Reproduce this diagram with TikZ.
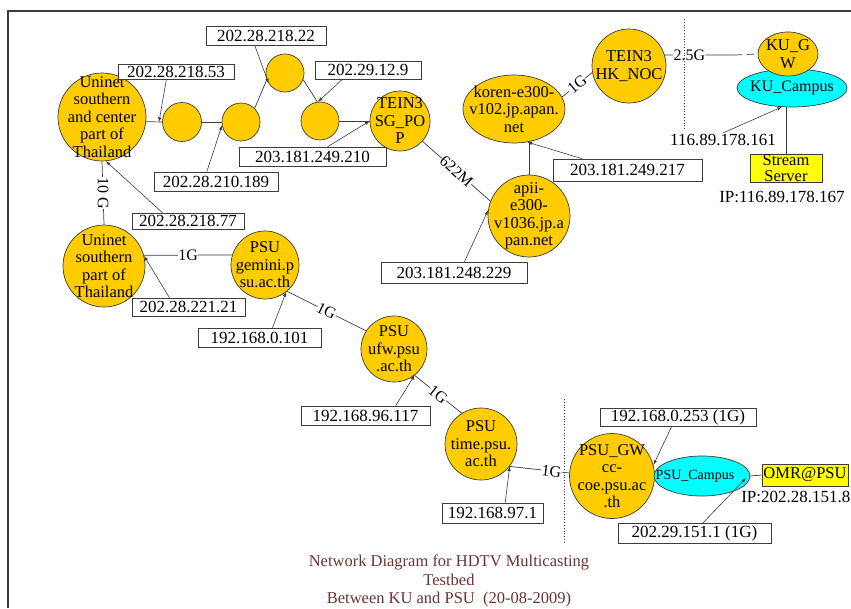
\documentclass[tikz,border=0pt]{standalone}
\usepackage{fontspec}
\setmainfont{Liberation Serif}
\usepackage{tikz}
\usetikzlibrary{shapes.geometric}
\usetikzlibrary{backgrounds}
\definecolor{gold1} {RGB} {255, 204, 0}
\definecolor{cyan1} {RGB} {0, 255, 255}
\definecolor{yellow1} {RGB} {255, 255, 0}
\definecolor{brown1} {RGB} {110, 50, 50}
\definecolor{gray1} {RGB} {60, 60, 60}
\tikzstyle{net}=[
  >=latex, x=1pt, y=-1pt, line width=0.6pt
]
\tikzstyle{netnode}=[
  draw=gray1, line width=0.7pt, inner sep=0pt
]
\tikzstyle{router}=[
  netnode, circle, fill=gold1
]
\tikzstyle{cloud}=[
  netnode, ellipse, fill=gold1
]
\tikzstyle{campus}=[
  netnode, ellipse, fill=cyan1
]
\tikzstyle{nodetext}=[
  align=center, inner sep=0pt, font=\fontsize{16.5}{17.5}\selectfont
]
\tikzstyle{ipbox}=[
  draw=gray1, fill=white, minimum height=19, inner sep=0pt, font=\fontsize{17}{18}\selectfont
]
\tikzstyle{iptext}=[
  inner sep=1pt, font=\fontsize{17}{18}\selectfont
]
\tikzstyle{hostbox}=[
  draw=gray1, fill=yellow1, inner sep=0pt, align=center, font=\fontsize{16.5}{16.5}\selectfont
]
\tikzstyle{linkedge}=[
  line width=0.7pt, draw=gray1
]
\tikzstyle{ipedge}=[
  line width=0.6pt, draw=gray1, ->
]
\tikzstyle{rate}=[
  fill=white, inner sep=0.5pt, font=\fontsize{16}{17}\selectfont
]
\begin{document}
\begin{tikzpicture}[net]
    \useasboundingbox (0,0) rectangle (851,608);
    \draw [line width=1.2pt, gray1] (8,608) -- (8,11) -- (851,11);
    \draw [dotted, line width=0.8pt, gray1] (684,19) -- (684,130);
    \draw [dotted, line width=0.8pt, gray1] (564,399) -- (564,542);
    \node (uc) [router, minimum size=88] at (102,117) {};
    \node (c1) [router, minimum size=39] at (182,122) {};
    \node (c2) [router, minimum size=38] at (241,122) {};
    \node (c3) [router, minimum size=38] at (285,73) {};
    \node (c4) [router, minimum size=38] at (320,121) {};
    \node (sg) [router, minimum size=60] at (400,121) {};
    \node (us) [router, minimum size=82] at (104,266) {};
    \node (gem) [router, minimum size=68] at (265,265) {};
    \node (ufw) [router, minimum size=66] at (394,349) {};
    \node (tim) [router, minimum size=72] at (481,444) {};
    \node (gw) [router, minimum size=85] at (612,476) {};
    \node (psuc) [campus, minimum width=96, minimum height=40] at (702,476) {};
    \node (apii) [router, minimum size=82] at (529,216) {};
    \node (koren) [cloud, minimum width=102, minimum height=68] at (514,109) {};
    \node (hk) [router, minimum size=74] at (629,66) {};
    \node (kuc) [campus, minimum width=110, minimum height=38] at (792,88) {};
    \node (kugw) [cloud, minimum width=60, minimum height=44] at (788,54) {};
    \node (uc txt) [nodetext] at (uc) {Uninet\\southern\\and center\\part of\\Thailand};
    \node (sg txt) [nodetext] at (sg) {TEIN3\\SG\_PO\\P};
    \node (us txt) [nodetext] at (us) {Uninet\\southern\\part of\\Thailand};
    \node (gem txt) [nodetext] at (gem) {PSU\\gemini.p\\su.ac.th};
    \node (ufw txt) [nodetext] at (ufw) {PSU\\ufw.psu\\.ac.th};
    \node (tim txt) [nodetext] at (tim) {PSU\\time.psu.\\ac.th};
    \node (gw txt) [nodetext] at (gw) {PSU\_GW\\cc-\\coe.psu.ac\\.th};
    \node (psuc txt) [nodetext, font=\fontsize{14}{15}\selectfont] at (695,476) {PSU\_Campus};
    \node (apii txt) [nodetext] at (apii) {apii-\\e300-\\v1036.jp.a\\pan.net};
    \node (koren txt) [nodetext] at (koren) {koren-e300-\\v102.jp.apan.\\net};
    \node (hk txt) [nodetext] at (hk) {TEIN3\\HK\_NOC};
    \node (kuc txt) [nodetext, font=\fontsize{16}{17}\selectfont] at (kuc) {KU\_Campus};
    \node (kugw txt) [nodetext, font=\fontsize{16.5}{18}\selectfont] at (kugw) {KU\_G\\W};
    \node (omr) [hostbox, minimum width=86, minimum height=22] at (805,475) {OMR@PSU};
    \node (ss) [hostbox, minimum width=72, minimum height=28] at (786,168) {Stream\\Server};
    \node (lb22) [ipbox, minimum width=120] at (266,35.5) {202.28.218.22};
    \node (lb53) [ipbox, minimum width=116, minimum height=15] at (176,71.5) {202.28.218.53};
    \node (lb129) [ipbox, minimum width=106, minimum height=18] at (368,70) {202.29.12.9};
    \node (lb210) [ipbox, minimum width=147] at (312.5,156.5) {203.181.249.210};
    \node (lb189) [ipbox, minimum width=124] at (216,181.5) {202.28.210.189};
    \node (lb77) [ipbox, minimum width=112, minimum height=16] at (188,221) {202.28.218.77};
    \node (lb221) [ipbox, minimum width=113, minimum height=18] at (188.5,307) {202.28.221.21};
    \node (lb101) [ipbox, minimum width=123] at (259.5,337.5) {192.168.0.101};
    \node (lb117) [ipbox, minimum width=129] at (365.5,415.5) {192.168.96.117};
    \node (lb97) [ipbox, minimum width=101, minimum height=20] at (492.5,513) {192.168.97.1};
    \node (lb253) [ipbox, minimum width=156, minimum height=18] at (678,417) {192.168.0.253 (1G)};
    \node (lb151) [ipbox, minimum width=153, minimum height=20] at (694.5,533) {202.29.151.1 (1G)};
    \node (lb217) [ipbox, minimum width=149, minimum height=22] at (627.5,170) {203.181.249.217};
    \node (lb229) [ipbox, minimum width=146, minimum height=21] at (454,272.5) {203.181.248.229};
    \node (ip161) [iptext] at (723,140) {116.89.178.161};
    \node (ip167) [iptext] at (782,197) {IP:116.89.178.167};
    \node (ip8) [iptext, anchor=west] at (740,497) {IP:202.28.151.8};
    \node (title) [align=center, text=brown1, font=\fontsize{16.5}{18.5}\selectfont] at (449,581)
        {Network Diagram for HDTV Multicasting\\Testbed\\Between KU and PSU\ \ (20-08-2009)};
    \coordinate (tip53) at (159,122);
    \coordinate (tip151) at (746,478);
    \coordinate (kux) at (735,55);
    \begin{scope}[on background layer]
    \draw [linkedge] (uc.354) -- (c1.west);
    \draw [linkedge] (c1) -- (c2);
    \draw [linkedge] (c2.45) -- (c3.200);
    \draw [linkedge] (c3.340) -- (c4.98);
    \draw [linkedge] (c4) -- (sg);
    \draw [linkedge] (uc.south) -- (us.north)
        node[rate, midway, rotate=-90] {10 G};
    \draw [linkedge] (us.15) -- (gem.163)
        node[rate, midway] {1G};
    \draw [linkedge] (gem.310) -- (ufw.147)
        node[rate, midway, sloped] {1G};
    \draw [linkedge] (ufw.308) -- (tim.122)
        node[rate, midway, sloped] {1G};
    \draw [linkedge] (tim.322) -- (gw.176)
        node[rate, pos=0.7, sloped] {1G};
    \draw [linkedge] (sg.318) -- (apii.159)
        node[rate, midway, sloped] {622M};
    \draw [linkedge] (apii.north) -- (apii.north |- koren.south);
    \draw [linkedge] (koren.14) -- (hk.190)
        node[rate, midway, sloped] {1G};
    \draw [linkedge] (hk.17) -- (kux)
        node[rate, pos=0.35] {2.5G};
    \draw [linkedge, dash pattern=on 7pt off 5pt] (kux) -- (kugw.west);
    \draw [linkedge] (psuc.east) -- (omr.west);
    \draw [linkedge] (ss.north) -- (ss.north |- kuc.south);
    \end{scope}
    \draw [ipedge] (lb53.219) -- (tip53);
    \draw [ipedge] (lb22.221) -- (c3.212);
    \draw [ipedge] (lb129.200) -- (c4.96);
    \draw [ipedge] (lb210.33) -- (sg.180);
    \draw [ipedge] (lb189.133) -- (c2.190);
    \draw [ipedge] (lb77.162) -- (uc.275);
    \draw [ipedge] (lb221.154) -- (us.14);
    \draw [ipedge] (lb101.37) -- (gem.308);
    \draw [ipedge] (lb117.18) -- (ufw.308);
    \draw [ipedge] (lb97.39) -- (tim.322);
    \draw [ipedge] (lb253.236) -- (gw.15);
    \draw [ipedge] (lb151.50) -- (tip151);
    \draw [ipedge] (lb217.166) -- (koren.292);
    \draw [ipedge] (lb229.46) -- (apii.172);
    \draw [ipedge] (ip161.north) -- (kuc.242);
\end{tikzpicture}
\end{document}
